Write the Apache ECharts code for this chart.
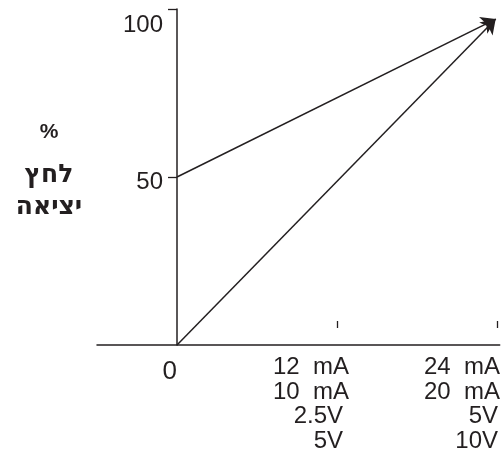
<!DOCTYPE html>
<html>
<head>
<meta charset="utf-8">
<script src="https://cdn.jsdelivr.net/npm/echarts@6/dist/echarts.min.js"></script>
<style>
html,body{margin:0;padding:0;background:#fff;}
#chart{width:502px;height:460px;}
</style>
</head>
<body>
<div id="chart"></div>
<script>
// ---- data ----
const xTickValues = [0, 12, 24];
const xTickLines = {
  0: ['0'],
  12: ['12  mA', '10  mA', '2.5V', '5V'],
  24: ['24  mA', '20  mA', '5V', '10V']
};
const xMinorTicks = [12, 24];
const yTickValues = [50, 100];
const yNamePercent = '%';
const yNameWords = ['לחץ', 'יציאה'];
const lineFromZero = [[0, 0], [23.9, 97]];
const lineFromFifty = [[0, 50], [23.9, 97]];

const INK = '#231f20';
const FONT = '"Liberation Sans", Arial, sans-serif';

const chart = echarts.init(document.getElementById('chart'), null, {renderer: 'canvas'});

function xLabel(v) {
  const lines = xTickLines[v];
  if (!lines) return '';
  if (v === 0) return '{z|' + lines[0] + '}';
  const p = v === 12 ? ['m12', 'v12'] : ['m24', 'v24'];
  return lines.map(s => '{' + (s.indexOf('mA') >= 0 ? p[0] : p[1]) + '|' + s + '}').join('\n');
}

const tokenBase = {fontSize: 24, fontFamily: FONT, color: INK, lineHeight: 24.7};

chart.setOption({
  animation: false,
  backgroundColor: '#fff',
  grid: {left: 97, right: 2.3, top: 9, bottom: 115, containLabel: false, outerBoundsMode: 'none'},
  xAxis: [{
    type: 'value',
    min: -6,
    max: 24.2,
    splitLine: {show: false},
    axisLine: {show: true, onZero: false, lineStyle: {color: INK, width: 1.5}},
    axisTick: {show: false},
    axisLabel: {
      show: true,
      customValues: xTickValues,
      align: 'right',
      verticalAlign: 'top',
      margin: 10,
      formatter: xLabel,
      rich: {
        z: Object.assign({}, tokenBase, {fontSize: 26, padding: [8, 0, 0, 0]}),
        m12: Object.assign({}, tokenBase, {padding: [0, -12, 0, 0]}),
        v12: Object.assign({}, tokenBase, {padding: [0, -6, 0, 0]}),
        m24: Object.assign({}, tokenBase, {padding: [0, -3, 0, 0]}),
        v24: Object.assign({}, tokenBase, {padding: [0, -1, 0, 0]})
      }
    }
  }, {
    type: 'value',
    min: -6,
    max: 24.2,
    position: 'bottom',
    offset: -24,
    splitLine: {show: false},
    axisLine: {show: false, onZero: false},
    axisLabel: {show: false},
    axisTick: {show: true, inside: false, length: 7, customValues: xMinorTicks, lineStyle: {color: INK, width: 1.3}}
  }],
  yAxis: {
    type: 'value',
    min: 0,
    max: 100,
    interval: 50,
    position: 'left',
    offset: -80,
    splitLine: {show: false},
    axisLine: {show: true, onZero: false, lineStyle: {color: INK, width: 1.5}},
    axisTick: {show: true, length: 9, customValues: yTickValues, lineStyle: {color: INK, width: 1.3}},
    axisLabel: {
      customValues: yTickValues,
      margin: 14,
      formatter: v => v === 100 ? '{t|100}' : '{f|' + v + '}',
      rich: {
        t: Object.assign({}, tokenBase, {padding: [32, 0, 0, 0]}),
        f: Object.assign({}, tokenBase, {padding: [10, 0, 0, 0]})
      }
    },
    name: '{p|' + yNamePercent + '}\n' + yNameWords.map(w => '{h|' + w + '}').join('\n'),
    nameLocation: 'middle',
    nameRotate: 0,
    nameGap: 128,
    nameTextStyle: {
      align: 'center',
      verticalAlign: 'middle',
      padding: [0, 0, 26, 0],
      rich: {
        p: {fontSize: 21, fontWeight: 'bold', fontFamily: FONT, color: INK, lineHeight: 54},
        h: {fontSize: 25, fontWeight: 'bold', fontFamily: '"DejaVu Sans", sans-serif', color: INK, lineHeight: 32}
      }
    }
  },
  series: [{
    type: 'lines',
    coordinateSystem: 'cartesian2d',
    xAxisIndex: 0,
    yAxisIndex: 0,
    symbol: ['none', 'arrow'],
    symbolSize: [10, 14],
    lineStyle: {color: INK, width: 1.5, opacity: 1},
    silent: true,
    data: [{coords: lineFromZero}, {coords: lineFromFifty}]
  }]
});
</script>
</body>
</html>
